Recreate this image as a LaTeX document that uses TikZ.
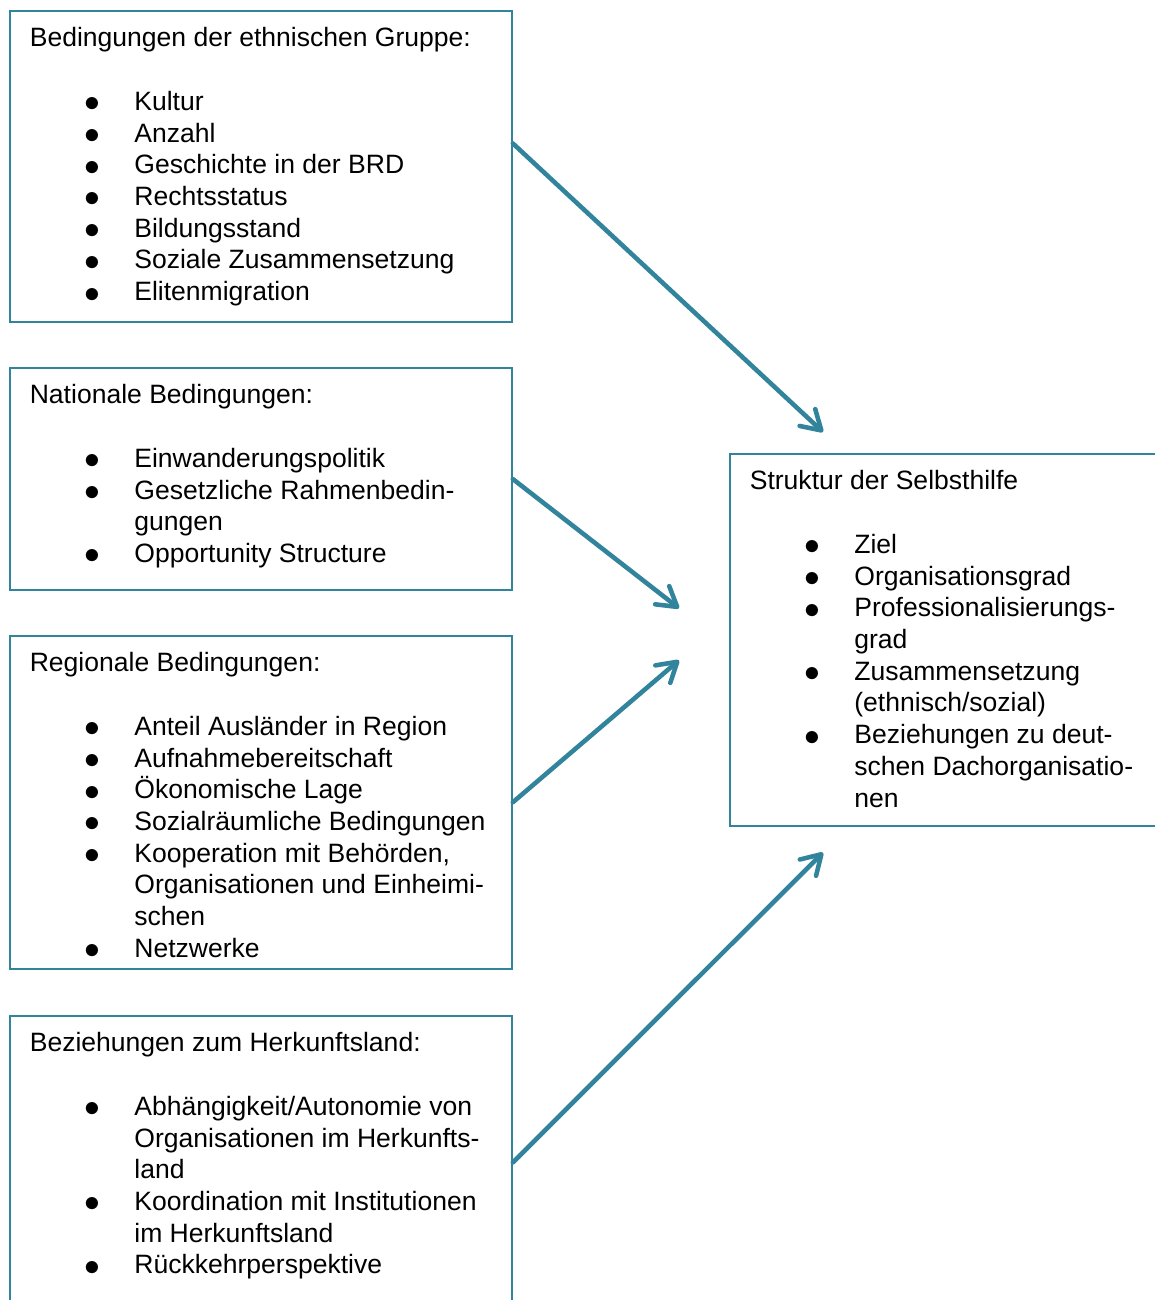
\documentclass[tikz,border=0pt]{standalone}
\usepackage{fontspec}
\setmainfont{Liberation Sans}
\usetikzlibrary{arrows.meta}

\definecolor{petrol}{HTML}{31849B}

% bullet item with hanging indent
\newcommand{\punkt}[1]{\par\hangindent=59.5pt\hangafter=1\noindent
  \makebox[59.5pt][l]{\hspace{31.2pt}\raisebox{-0.8pt}{\scalebox{1.25}{$\bullet$}}}#1}
% box body of fixed height
\newcommand{\kastentext}[3]{%
  \begin{minipage}[t][#1][t]{263pt}\raggedright
  #2\par\vspace{\baselineskip}#3\end{minipage}}

\tikzset{
  kasten/.style={draw=petrol,line width=1.1pt,anchor=north west,
    inner xsep=11.3pt,inner ysep=9.5pt,
    font=\fontsize{15.1}{18.05}\selectfont},
  pfeil/.style={draw=petrol,line width=2.6pt,line cap=round,
    -{Straight Barb[length=0.38cm,width=0.46cm,round]}}
}

\begin{document}
\begin{tikzpicture}
  \useasboundingbox (0,0) rectangle (23.1,-26);
  \clip (0,0) rectangle (23.1,-26);
  % influencing conditions
  \node[kasten] (ethn) at (0.18,-0.20) {\kastentext{157.9pt}
    {Bedingungen der ethnischen Gruppe:}
    {\punkt{Kultur}\punkt{Anzahl}\punkt{Geschichte in der BRD}
     \punkt{Rechtsstatus}\punkt{Bildungsstand}
     \punkt{Soziale Zusammensetzung}\punkt{Elitenmigration}}};
  \node[kasten] (natio) at (0.18,-7.34) {\kastentext{107.4pt}
    {Nationale Bedingungen:}
    {\punkt{Einwanderungspolitik}
     \punkt{Gesetzliche Rahmenbedin-\newline gungen}
     \punkt{Opportunity Structure}}};
  \node[kasten] (regio) at (0.18,-12.70) {\kastentext{170.3pt}
    {Regionale Bedingungen:}
    {\punkt{Anteil Ausländer in Region}\punkt{Aufnahmebereitschaft}
     \punkt{Ökonomische Lage}\punkt{Sozialräumliche Bedingungen}
     \punkt{\mbox{Kooperation mit Behörden,}\newline
       \mbox{Organisationen und Einheimi-}\newline schen}
     \punkt{Netzwerke}}};
  \node[kasten] (herk) at (0.18,-20.30) {\kastentext{147.7pt}
    {Beziehungen zum Herkunftsland:}
    {\punkt{\mbox{Abhängigkeit/Autonomie von}\newline
       \mbox{Organisationen im Herkunfts-}\newline land}
     \punkt{\mbox{Koordination mit Institutionen}\newline im Herkunftsland}
     \punkt{Rückkehrperspektive}}};
  % target
  \node[kasten] (struk) at (14.58,-9.06) {\kastentext{192.5pt}
    {Struktur der Selbsthilfe}
    {\punkt{Ziel}\punkt{Organisationsgrad}
     \punkt{Professionalisierungs-\newline grad}
     \punkt{Zusammensetzung\newline (ethnisch/sozial)}
     \punkt{Beziehungen zu deut-\newline schen Dachorganisatio-\newline nen}}};
  % arrow ends
  \coordinate (z1) at ([xshift=1.88cm,yshift=0.42cm]struk.north west);
  \coordinate (z2) at ([xshift=-1.0cm,yshift=0.63cm]struk.west);
  \coordinate (z3) at ([xshift=-1.0cm,yshift=-0.41cm]struk.west);
  \coordinate (z4) at ([xshift=1.88cm,yshift=-0.52cm]struk.south west);
  \draw[pfeil] ([yshift=0.46cm]ethn.east) -- (z1);
  \draw[pfeil] (natio.east) -- (z2);
  \draw[pfeil] (regio.east) -- (z3);
  \draw[pfeil] (herk.east) -- (z4);
\end{tikzpicture}
\end{document}
